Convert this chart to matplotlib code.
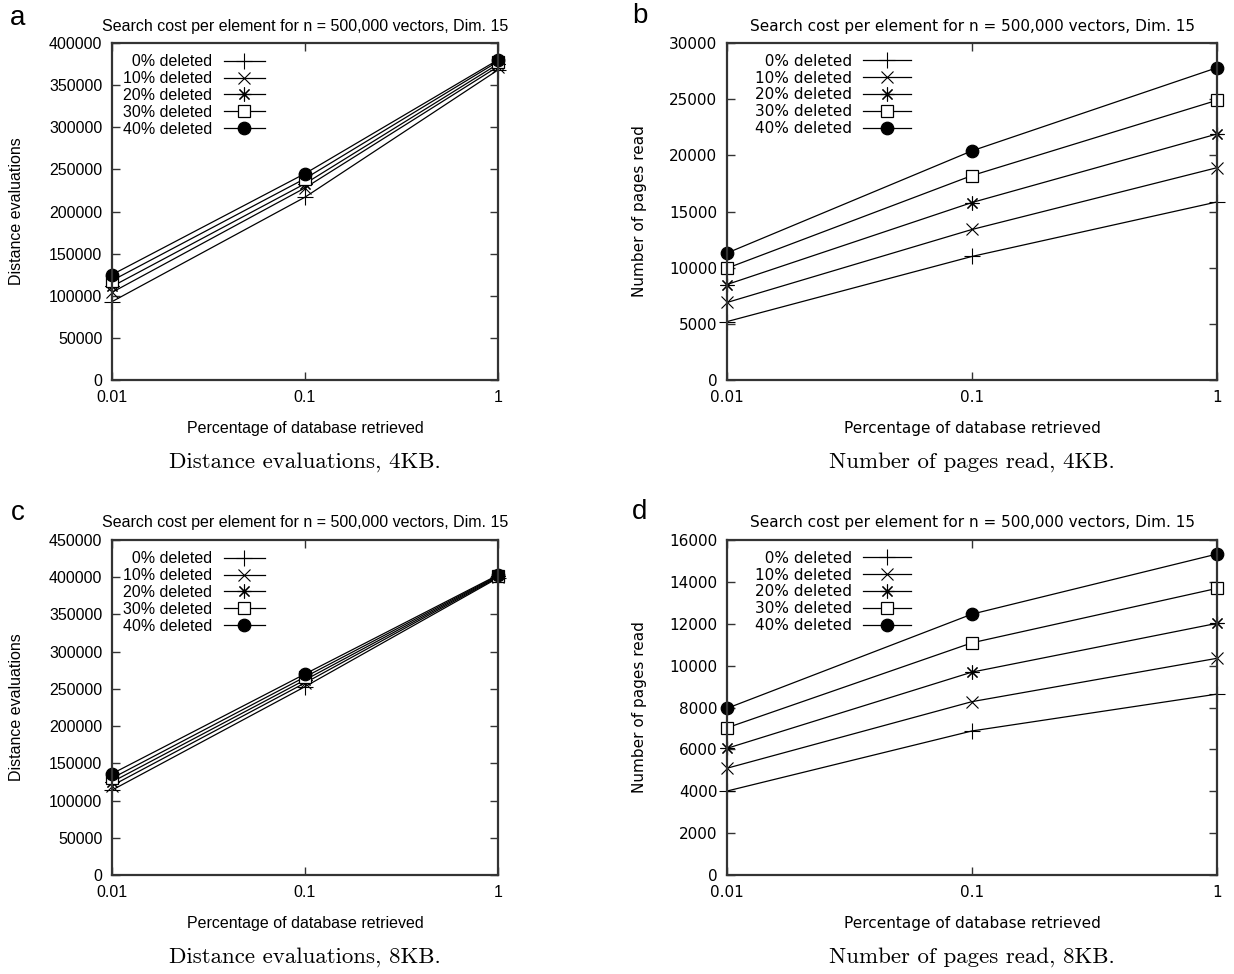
import numpy as np
import matplotlib
matplotlib.use("Agg")
import matplotlib.pyplot as plt
from matplotlib.ticker import FixedLocator, NullLocator

# data
x = [0.01, 0.1, 1]
xtick_labels = ["0.01", "0.1", "1"]
series = ["\u20070% deleted", "10% deleted", "20% deleted", "30% deleted", "40% deleted"]

dist_4kb = [
    [93000, 217000, 368000],
    [104000, 228000, 372000],
    [111000, 233000, 375000],
    [118000, 239000, 378000],
    [125000, 245000, 380000],
]
pages_4kb = [
    [5200, 11000, 15850],
    [6900, 13400, 18900],
    [8500, 15800, 21900],
    [9950, 18200, 24900],
    [11300, 20400, 27800],
]
dist_8kb = [
    [114000, 253000, 399000],
    [120000, 258000, 400000],
    [125000, 262000, 401000],
    [130000, 266000, 402000],
    [136000, 270000, 403000],
]
pages_8kb = [
    [4010, 6880, 8640],
    [5100, 8280, 10350],
    [6050, 9690, 12020],
    [7030, 11090, 13690],
    [7960, 12460, 15330],
]

title = "Search cost per element for n = 500,000 vectors, Dim. 15"
xlabel = "Percentage of database retrieved"

markers = [
    dict(marker="+", markersize=11, markeredgewidth=0.8, markerfacecolor="black"),
    dict(marker="x", markersize=9, markeredgewidth=0.8, markerfacecolor="black"),
    dict(marker=(8, 2, 0), markersize=10, markeredgewidth=0.8, markerfacecolor="black"),
    dict(marker="s", markersize=9, markeredgewidth=0.9, markerfacecolor="white"),
    dict(marker="o", markersize=9, markeredgewidth=0.9, markerfacecolor="black"),
]

panels = [
    ("a", dist_4kb, "Distance evaluations", np.arange(0, 400001, 50000), "Distance evaluations, 4KB."),
    ("b", pages_4kb, "Number of pages read", np.arange(0, 30001, 5000), "Number of pages read, 4KB."),
    ("c", dist_8kb, "Distance evaluations", np.arange(0, 450001, 50000), "Distance evaluations, 8KB."),
    ("d", pages_8kb, "Number of pages read", np.arange(0, 16001, 2000), "Number of pages read, 8KB."),
]

W, H = 1234, 974
boxes = [  # left, top, right, bottom in pixels
    (112, 43, 498, 380),
    (727, 43, 1217, 380),
    (112, 540, 498, 875),
    (727, 540, 1217, 875),
]
letters_pos = [(18, 18), (640, 16), (18, 513), (640, 512)]
caption_y = [462, 462, 957, 957]
# left subfigures use a narrow face, right ones look horizontally wider
face = ["Liberation Sans", "DejaVu Sans", "Liberation Sans", "DejaVu Sans"]
fsize = [11.5, 11, 11.5, 11]
center_px = [305, 972, 305, 972]
ylabel_px = [24, 647, 24, 647]
leg_shift_px = [0, 17, 0, 17]
handle_len = [2.6, 3.2, 2.6, 3.2]

fig = plt.figure(figsize=(W / 100, H / 100), dpi=100)

for i, (letter, data, ylabel, yticks, caption) in enumerate(panels):
    l, t, r, b = boxes[i]
    w = r - l
    fam = face[i]
    fs = fsize[i]
    ax = fig.add_axes([l / W, 1 - b / H, w / W, (b - t) / H])
    for vals, name, mk in zip(data, series, markers):
        ax.plot(x, vals, color="black", lw=0.9, label=name, clip_on=False,
                markeredgecolor="black", **mk)
    ax.set_xscale("log")
    ax.set_xlim(0.01, 1)
    ax.set_ylim(yticks[0], yticks[-1])
    ax.xaxis.set_major_locator(FixedLocator(x))
    ax.xaxis.set_minor_locator(NullLocator())
    ax.set_xticklabels(xtick_labels, family=fam)
    ax.set_yticks(yticks)
    ax.set_yticklabels([str(v) for v in yticks], family=fam)
    ax.tick_params(direction="in", top=True, right=True, length=6, width=1.0,
                   labelsize=fs, pad=7, color="#333333")
    for s in ax.spines.values():
        s.set_linewidth(1.6)
        s.set_color("#333333")
    cx = (center_px[i] - l) / w
    ax.set_title(title, fontsize=fs, family=fam, pad=9, x=cx)
    ax.set_xlabel(xlabel, fontsize=fs, family=fam, labelpad=12)
    ax.xaxis.label.set_x(cx)
    ax.set_ylabel(ylabel, fontsize=fs, family=fam)
    ax.yaxis.set_label_coords((ylabel_px[i] - l) / w, 0.5)
    ax.legend(loc="upper left", markerfirst=False, frameon=False,
              prop={"family": fam, "size": fs},
              handlelength=handle_len[i], handletextpad=0.7, labelspacing=0.12,
              borderaxespad=0.3, bbox_to_anchor=(leg_shift_px[i] / w, 1.0))

    lx, ly = letters_pos[i]
    fig.text(lx / W, 1 - ly / H, letter, fontsize=20, family="Liberation Sans",
             ha="center", va="center")
    fig.text(center_px[i] / W, 1 - caption_y[i] / H, caption, fontsize=16.5,
             family="cmr10", ha="center", va="center")

fig.savefig("out.png", dpi=100)
